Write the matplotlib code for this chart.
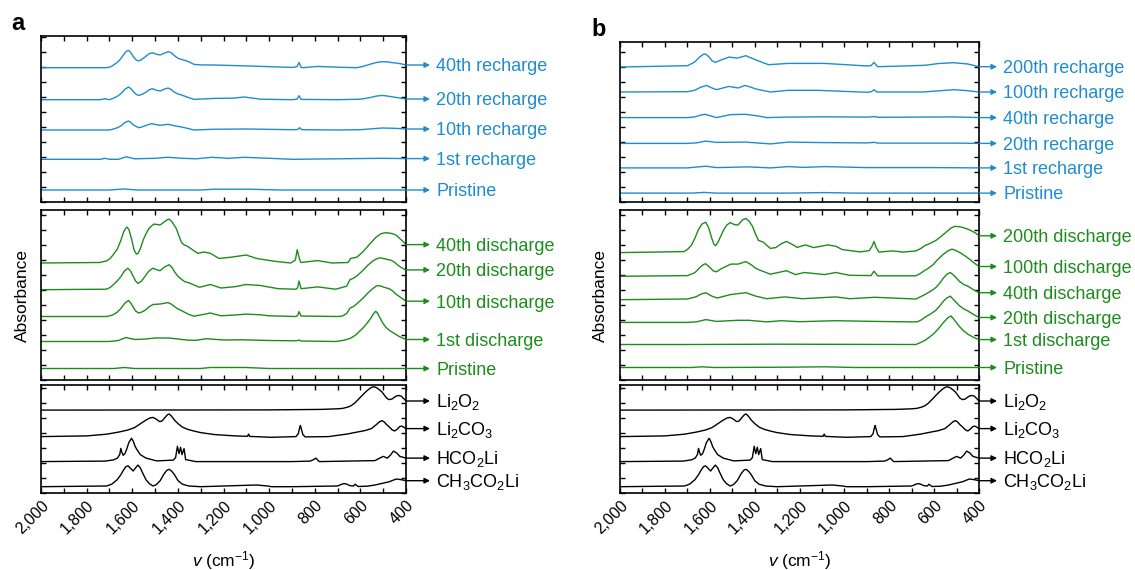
import matplotlib
matplotlib.use('Agg')
import matplotlib.pyplot as plt
from matplotlib.ticker import MultipleLocator, FuncFormatter

plt.rcParams['font.family'] = ['Liberation Sans', 'DejaVu Sans']
plt.rcParams['mathtext.fontset'] = 'custom'
plt.rcParams['mathtext.rm'] = 'Liberation Sans'
plt.rcParams['mathtext.it'] = 'Liberation Sans:italic'

BLUE = '#1e8cce'
GREEN = '#1c8c1c'
BLACK = '#000000'

# spectra: (wavenumber cm-1, absorbance a.u. above own baseline)
# panel a, recharge
a_rc_pristine = [(2000, 0), (1700, 0), (1635, 1), (1580, 0), (1300, 0), (1240, 0.8), (1090, 0.8), (950, 0), (400, 0)]
a_rc_1 = [(2000, 0), (1740, 0), (1720, 1), (1700, 0), (1660, 0), (1627, 2.5), (1590, 0.5), (1500, 1), (1446, 2),
          (1380, 1), (1320, 0.5), (1250, 2), (1180, 1), (1109, 2), (1000, 1), (897, 0), (700, 0.5), (505, 1), (400, 0.7)]
a_rc_10 = [(2000, 0), (1700, 0), (1682, 1), (1665, 2.3), (1650, 4), (1632, 7.5), (1616, 9), (1605, 7.3), (1595, 5),
           (1572, 2.3), (1555, 3.2), (1540, 4.5), (1517, 6.3), (1478, 4.7), (1443, 5.7), (1415, 4.2), (1384, 3),
           (1352, 1.3), (1329, 0), (1250, 0.7), (1100, 1), (900, 0.3), (875, 0.5), (866, 2.3), (857, 0.3), (700, 0),
           (600, 0.3), (550, 1.2), (505, 2), (450, 1.7), (400, 1)]
a_rc_20 = [(2000, 0), (1740, 0), (1720, 1), (1700, 0), (1682, 1.5), (1665, 3.5), (1650, 6), (1632, 10.5),
           (1616, 12.7), (1605, 10.8), (1595, 8), (1583, 5.3), (1572, 4.3), (1555, 5.5), (1540, 7.5), (1525, 10),
           (1512, 11), (1495, 9.5), (1478, 8.7), (1460, 10.5), (1443, 11.7), (1430, 10.2), (1415, 7.5), (1400, 5.8),
           (1384, 4.7), (1352, 2), (1329, 0.3), (1242, 1.3), (1160, 1.5), (1109, 2.7), (1038, 0.5), (900, 0),
           (878, 0.5), (869, 4), (860, 0.3), (700, 0), (600, 0.5), (560, 2), (530, 3.6), (505, 4.3), (480, 3.6),
           (450, 2.5), (400, 0.7)]
a_rc_40 = [(2000, 0), (1713, 0), (1695, 0.8), (1682, 2.7), (1665, 5.5), (1650, 9), (1635, 14), (1625, 16.5),
           (1616, 17.3), (1606, 15), (1595, 11), (1583, 7.8), (1572, 6.7), (1560, 8), (1545, 10.5), (1528, 13.8),
           (1512, 15), (1495, 13.5), (1478, 12.7), (1460, 14.5), (1442, 16), (1428, 14.8), (1415, 12), (1400, 9.5),
           (1384, 8.3), (1365, 7), (1352, 6), (1329, 3.3), (1300, 2.8), (1242, 2.7), (1086, 1.7), (900, 0.3),
           (878, 1), (869, 5.3), (860, 0.3), (853, 0), (787, 1.3), (700, 0.5), (615, 0), (590, 1.2), (568, 2.7),
           (545, 4.3), (530, 5.2), (505, 6), (480, 5.8), (460, 5), (443, 4.7), (420, 3.8), (400, 2.7)]

# panel a, discharge
a_dc_pristine = [(2000, 0), (1680, 0), (1635, 1), (1590, 0), (1300, 0), (1258, 1), (1101, 1), (1000, 0), (400, 0)]
a_dc_1 = [(2000, 0), (1700, 0), (1660, 1), (1640, 3), (1627, 4), (1610, 3), (1587, 2), (1540, 2.5), (1500, 3.5),
          (1440, 3.5), (1399, 2.5), (1360, 1.4), (1320, 1.2), (1274, 2.8), (1200, 1.5), (1117, 1.7), (1000, 1),
          (880, 0.7), (869, 1.5), (860, 0.5), (709, 0), (678, 1), (660, 2), (646, 3), (630, 5), (615, 7.6),
          (600, 11), (584, 14.6), (570, 18.5), (555, 23), (542, 28), (533, 30.2), (525, 28.5), (515, 24),
          (503, 19), (490, 14.6), (475, 11.5), (458, 9), (445, 7.2), (430, 5), (415, 3.5), (400, 2)]
a_dc_10 = [(2000, 0), (1713, 0), (1697, 0.8), (1682, 2), (1665, 4.5), (1650, 8), (1632, 13.5), (1616, 16),
           (1605, 13), (1595, 9), (1585, 5.5), (1572, 3.5), (1560, 4.3), (1545, 6), (1525, 10), (1509, 12),
           (1478, 12.5), (1443, 13.9), (1430, 12.5), (1415, 10), (1400, 7.5), (1384, 5.9), (1352, 2), (1329, 0.3),
           (1290, 2), (1258, 3.5), (1211, 0.7), (1150, 1.5), (1101, 2.4), (1038, 1.7), (1000, 0.7), (882, 0),
           (875, 1), (869, 4.9), (860, 0.5), (700, 0), (678, 0.5), (660, 3), (646, 8.3), (630, 10), (615, 12.8),
           (590, 18), (568, 23.3), (545, 28), (530, 30.5), (524, 30.9), (510, 30.5), (500, 29.5), (474, 27.8),
           (458, 25.5), (443, 22.2), (420, 18.5), (400, 15.3)]
a_dc_20 = [(2000, 0), (1713, 0.5), (1697, 2.2), (1682, 5.2), (1665, 9), (1650, 13), (1635, 18.5), (1619, 21.5),
           (1607, 18.5), (1595, 13), (1585, 8.5), (1575, 6.3), (1560, 8.5), (1545, 13), (1528, 18.5), (1509, 21.5),
           (1493, 20), (1478, 19), (1460, 22.5), (1438, 25), (1425, 22), (1415, 18), (1400, 13.5), (1384, 10.4),
           (1370, 8), (1352, 6.9), (1305, 2.4), (1258, 5.2), (1211, 1.7), (1150, 3), (1101, 5.2), (1038, 4.2),
           (960, 1), (882, 0.5), (875, 2), (869, 8.7), (860, 1), (787, 2.8), (709, 0.5), (660, 3.5), (646, 10),
           (630, 11.5), (615, 13.9), (590, 19), (568, 24.3), (545, 28.8), (525, 31.3), (513, 31.9), (495, 31),
           (480, 30.2), (466, 29.5), (450, 27.5), (435, 24.3), (418, 21.8), (400, 19.8)]
a_dc_40 = [(2000, 0), (1744, 0.5), (1713, 2), (1697, 4.5), (1682, 8.7), (1665, 14), (1650, 22.6), (1638, 31),
           (1628, 35), (1622, 35.8), (1614, 33), (1603, 24), (1592, 13), (1582, 9), (1575, 9.5), (1565, 14),
           (1552, 23), (1540, 29.2), (1525, 35), (1506, 38.9), (1490, 38.5), (1478, 38), (1460, 41), (1445, 43.5),
           (1438, 43.8), (1425, 41), (1407, 34.4), (1395, 27), (1384, 20.5), (1372, 18), (1360, 17), (1313, 9.7),
           (1285, 11), (1258, 9.7), (1219, 4.5), (1164, 5.9), (1101, 8), (1054, 4.5), (976, 1.7), (905, 0),
           (885, 3), (877, 13.2), (868, 5), (861, 0.5), (787, 2.4), (725, 0), (654, 0.5), (643, 4.5), (615, 5.9),
           (590, 11), (570, 16), (552, 20.8), (530, 26), (510, 29.3), (490, 30.3), (470, 29.8), (455, 29),
           (443, 27.8), (425, 24), (410, 21), (400, 18.4)]

# panel b, recharge
b_rc_pristine = [(2000, 0), (1680, 0), (1626, 0.7), (1570, 0), (1250, 0), (1090, 0.5), (950, 0), (400, 0)]
b_rc_1 = [(2000, 0), (1700, 0), (1618, 1.7), (1570, 0.3), (1426, 1), (1330, 0), (1250, 1.3), (1180, 0.5), (1089, 1.3),
          (900, 0.3), (600, 0.3), (400, 0)]
b_rc_20 = [(2000, 0), (1700, 0), (1660, 0.5), (1618, 2.3), (1570, 1), (1440, 1.3), (1330, -0.5), (1250, 1.3),
           (1100, 0.8), (900, 0.5), (865, 1), (850, 0.3), (500, 0.3), (400, 0)]
b_rc_40 = [(2000, 0), (1699, 0), (1667, 0.7), (1640, 2.5), (1622, 3.3), (1600, 2), (1570, 0), (1506, 3), (1442, 3.3),
           (1380, 1.5), (1346, 0), (1250, 0.5), (1100, 0.8), (900, 0.5), (865, 1), (850, 0.3), (512, 0.7), (400, 0)]
b_rc_100 = [(2000, 0), (1699, 0.3), (1667, 1.7), (1640, 4.8), (1615, 6.6), (1595, 4.5), (1570, 2.3), (1545, 3.8),
            (1514, 5.6), (1474, 4), (1442, 6.6), (1420, 5), (1394, 3), (1330, 0), (1250, 1.7), (1121, 1.7),
            (897, -0.3), (880, 0.3), (868, 2.3), (855, 0), (650, 0), (560, 1.5), (512, 2.3), (460, 1.5), (400, 0)]
b_rc_200 = [(2000, 0), (1699, 1.3), (1667, 5), (1645, 10), (1630, 12.5), (1618, 13), (1605, 10.5), (1590, 6.3),
            (1574, 4.6), (1550, 7), (1514, 9.9), (1477, 8.9), (1439, 11.3), (1415, 9), (1378, 5.6), (1338, 2.3),
            (1250, 3.6), (1089, 3.6), (897, 1), (880, 1.5), (868, 4.6), (852, 0.3), (737, 1), (641, 1.7),
            (580, 3.5), (512, 4.3), (450, 3), (400, 0.3)]

# panel b, discharge
b_dc_pristine = [(2000, 0), (1680, 0), (1634, 0.7), (1580, 0), (1250, 0.3), (1089, 0.7), (950, 0), (400, 0)]
b_dc_1 = [(2000, 0), (1700, 0), (1300, 0.3), (681, 0), (660, 2), (641, 4.2), (620, 7.5), (600, 11.2), (580, 16),
          (560, 21.6), (540, 26.5), (525, 28.6), (508, 24), (488, 18.2), (468, 13.5), (448, 10.1), (425, 7.2),
          (400, 4.9)]
b_dc_20 = [(2000, 0), (1700, 0), (1660, 0.5), (1618, 2.8), (1570, 1), (1474, 2.1), (1426, 2.1), (1346, 0.5),
           (1282, 1.7), (1200, 0.7), (1041, 1.7), (865, 1), (700, 0.5), (673, 0.7), (655, 2.8), (641, 5.2),
           (615, 8.5), (592, 12.2), (575, 16.5), (560, 20.9), (543, 24.5), (528, 26.2), (510, 22), (488, 16.8),
           (468, 13.5), (448, 11.2), (425, 8), (400, 4.9)]
b_dc_40 = [(2000, 0), (1699, 0.7), (1660, 3), (1640, 5.5), (1618, 7), (1590, 3.5), (1567, 1.7), (1506, 5.2),
           (1439, 7), (1394, 3.5), (1346, 1), (1266, 2.8), (1186, 1), (1038, 2.8), (975, 1), (865, 2.4), (681, 0.7),
           (660, 3), (641, 5.2), (615, 8.5), (592, 12.2), (575, 16.5), (560, 21.3), (543, 25.5), (528, 27.2),
           (510, 24), (488, 18.5), (470, 15.5), (448, 13.3), (425, 10), (400, 7)]
b_dc_100 = [(2000, 0), (1699, 0.7), (1667, 3.5), (1645, 8.5), (1630, 11.5), (1618, 12.6), (1600, 9), (1585, 5.5),
            (1570, 4.5), (1545, 8), (1506, 12.2), (1474, 12.2), (1439, 14.7), (1415, 11.5), (1395, 8), (1378, 6.3),
            (1330, 2.1), (1258, 5.6), (1218, 1.7), (1178, 3.8), (1089, 1.7), (1038, 3.8), (977, 1), (881, 0.7),
            (868, 5.2), (852, 0.5), (681, 0.5), (660, 3), (644, 5.6), (628, 7.7), (605, 11.5), (584, 16.8),
            (560, 21.8), (538, 25.5), (520, 27.2), (500, 25.5), (480, 23), (460, 20), (440, 16.8), (420, 13),
            (400, 9.8)]
b_dc_200 = [(2000, 0), (1715, 1), (1700, 3), (1683, 7), (1667, 14), (1651, 22.7), (1635, 28.5), (1618, 30.4),
            (1605, 25), (1592, 15), (1582, 8.5), (1574, 7), (1563, 10.5), (1550, 17), (1538, 22.7), (1524, 27.5),
            (1509, 30), (1490, 28), (1474, 27.6), (1455, 32.5), (1439, 34.2), (1425, 31.5), (1410, 26.5),
            (1395, 18), (1383, 12.2), (1362, 10.5), (1330, 4.2), (1306, 5), (1280, 9), (1258, 11.2), (1235, 8.5),
            (1210, 5.2), (1173, 7.7), (1137, 5), (1073, 7.7), (1038, 6.3), (1009, 3), (929, 0.7), (889, 2),
            (875, 7), (868, 11.2), (858, 5), (846, 0.5), (785, 1.7), (737, 0.5), (681, 1.7), (660, 4), (641, 7),
            (615, 9.5), (592, 12.2), (570, 16), (544, 20.9), (525, 24.5), (509, 26.2), (490, 26), (472, 25.1),
            (450, 23.5), (432, 21.6), (415, 19.5), (400, 16.8)]

# reference compounds (same in both panels)
ref_li2o2 = [(2000, 0), (1000, 0.2), (772, 0.7), (700, 1.3), (678, 1.7), (655, 3), (640, 4.5), (625, 7), (610, 10.5),
             (595, 14), (580, 17.5), (565, 20.5), (552, 22.6), (544, 23.3), (535, 23), (525, 21.8), (515, 20),
             (505, 18.1), (495, 15), (485, 12), (474, 10.5), (462, 11), (450, 13), (440, 14.3), (430, 14.6),
             (420, 13.8), (410, 11.5), (400, 9.1)]
ref_li2co3 = [(2000, 0), (1800, 0.7), (1713, 2.4), (1660, 4.5), (1619, 6.6), (1590, 9), (1564, 12.9), (1540, 16.5),
              (1522, 18.7), (1509, 19.2), (1495, 17.5), (1480, 15), (1470, 15.5), (1455, 19.5), (1445, 22),
              (1438, 22.6), (1428, 20.5), (1415, 16.5), (1399, 12.9), (1380, 9.5), (1360, 7.5), (1336, 5.9),
              (1300, 4), (1242, 2.1), (1150, 0.7), (1095, 0.3), (1090, 2.5), (1085, 0.2), (991, -0.7), (882, 0),
              (872, 3), (866, 9), (863, 11.1), (859, 8), (852, 2), (842, -0.3), (740, 0), (660, 2.5), (615, 4.5),
              (580, 6), (552, 8), (530, 12), (515, 15), (505, 16), (495, 14.5), (485, 12), (474, 9.8), (462, 7),
              (450, 5.6), (438, 7.5), (428, 10), (419, 10.5), (410, 9.5), (400, 8)]
ref_hco2li = [(2000, 0), (1720, 0.5), (1682, 1.7), (1665, 3.5), (1655, 7), (1650, 13.2), (1645, 9), (1640, 6.3),
              (1632, 8), (1625, 12), (1615, 19), (1603, 23.3), (1595, 20), (1587, 15), (1580, 12.2), (1565, 7),
              (1540, 3.5), (1493, 0.7), (1420, 1.5), (1410, 4), (1402, 15.3), (1395, 8), (1388, 14.3), (1382, 7),
              (1373, 13), (1366, 2), (1321, 0), (900, 0), (820, 0.5), (805, 2), (795, 3.5), (785, 1), (780, 0),
              (536, 1), (515, 3.5), (500, 5.2), (482, 3.5), (468, 6.5), (455, 10.5), (440, 8.5), (427, 5.2),
              (400, 3.5)]
ref_ch3co2li = [(2000, 0), (1713, 0.7), (1690, 2.5), (1666, 7), (1650, 12), (1640, 16), (1628, 20), (1619, 20.9),
                (1608, 18.5), (1596, 15.7), (1585, 19), (1575, 21.6), (1565, 19), (1555, 14), (1540, 7), (1525, 3),
                (1509, 0.7), (1495, 2), (1478, 5.9), (1460, 13), (1448, 16.5), (1438, 17.4), (1427, 15.5),
                (1415, 12), (1399, 5.9), (1380, 2.5), (1352, 0.7), (1300, 0), (1054, 1.7), (1007, 0.7), (990, 0),
                (900, 0), (700, 0.7), (678, 2.8), (665, 3), (645, 1), (630, 0.7), (623, 2.5), (610, 0.2),
                (570, 0.5), (536, 1.7), (474, 4.9), (443, 7.7), (420, 7), (400, 6)]

a_rc_labels = ['Pristine', '1st recharge', '10th recharge', '20th recharge', '40th recharge']
a_dc_labels = ['Pristine', '1st discharge', '10th discharge', '20th discharge', '40th discharge']
b_rc_labels = ['Pristine', '1st recharge', '20th recharge', '40th recharge', '100th recharge', '200th recharge']
b_dc_labels = ['Pristine', '1st discharge', '20th discharge', '40th discharge', '100th discharge', '200th discharge']
ref_labels = ['CH$_3$CO$_2$Li', 'HCO$_2$Li', 'Li$_2$CO$_3$', 'Li$_2$O$_2$']

# vertical stacking offsets (a.u.)
a_rc_off = [12, 42.7, 72, 102.3, 134.3]
a_dc_off = [11.5, 38.5, 63.5, 90.3, 117]
b_rc_off = [8.9, 34.1, 58.6, 84.4, 110, 135]
b_dc_off = [12.5, 35.5, 57.6, 80.3, 103.7, 127.4]
ref_off = [6.3, 31.4, 56.4, 82.9]

W, H = 1135, 570
fig = plt.figure(figsize=(W / 100, H / 100), dpi=100)


def add_ax(x0, x1, y0, y1):
    return fig.add_axes([x0 / W, 1 - y1 / H, (x1 - x0) / W, (y1 - y0) / H])


def style(ax, ymax, labels):
    ax.set_xlim(2000, 400)
    ax.set_ylim(0, ymax)
    ax.xaxis.set_major_locator(MultipleLocator(200))
    ax.xaxis.set_minor_locator(MultipleLocator(100))
    ax.yaxis.set_major_locator(MultipleLocator(15))
    ax.tick_params(which='both', direction='in', top=True, right=True, length=3.5, width=1,
                   labelleft=False, labelbottom=labels)
    for s in ax.spines.values():
        s.set_linewidth(1.2)
    if labels:
        ax.xaxis.set_major_formatter(FuncFormatter(lambda v, p: f'{int(v):,}'))
        plt.setp(ax.get_xticklabels(), rotation=45, ha='right', rotation_mode='anchor', fontsize=11.5)
        ax.set_xlabel('$v$ (cm$^{-1}$)', fontsize=12.5)
        ax.xaxis.set_label_coords(0.5, -0.515)
        ax.xaxis.label.set_va('top')


def draw(ax, curves, offsets, labels, color, arrow_pt, text_pt):
    for pts, off, lab in zip(curves, offsets, labels):
        wn = [p[0] for p in pts]
        ab = [p[1] + off for p in pts]
        ax.plot(wn, ab, color=color, lw=1, solid_joinstyle='round')
        ax.annotate('', xy=(1, ab[-1]), xycoords=('axes fraction', 'data'),
                    xytext=(arrow_pt, 0), textcoords='offset points', annotation_clip=False,
                    arrowprops=dict(arrowstyle='<|-', color=color, lw=1, shrinkA=0, shrinkB=0,
                                    mutation_scale=8))
        ax.annotate(lab, xy=(1, ab[-1]), xycoords=('axes fraction', 'data'),
                    xytext=(text_pt, -4.6), textcoords='offset points', annotation_clip=False,
                    ha='left', va='baseline', color=color, fontsize=13)


# panel a
ax_a1 = add_ax(41, 406, 36, 202)
ax_a2 = add_ax(41, 406, 210, 380)
ax_a3 = add_ax(41, 406, 385, 493)
style(ax_a1, 166, False)
style(ax_a2, 170, False)
style(ax_a3, 108, True)
draw(ax_a1, [a_rc_pristine, a_rc_1, a_rc_10, a_rc_20, a_rc_40], a_rc_off, a_rc_labels, BLUE, 17.3, 21.6)
draw(ax_a2, [a_dc_pristine, a_dc_1, a_dc_10, a_dc_20, a_dc_40], a_dc_off, a_dc_labels, GREEN, 17.3, 21.6)
draw(ax_a3, [ref_ch3co2li, ref_hco2li, ref_li2co3, ref_li2o2], ref_off, ref_labels, BLACK, 17.3, 21.6)
ax_a2.text(-19 / 365, 0.5, 'Absorbance', transform=ax_a2.transAxes, rotation=90,
           ha='center', va='center', fontsize=12.5)

# panel b
ax_b1 = add_ax(620, 979, 42, 202)
ax_b2 = add_ax(620, 979, 210, 380)
ax_b3 = add_ax(620, 979, 385, 493)
style(ax_b1, 160, False)
style(ax_b2, 170, False)
style(ax_b3, 108, True)
draw(ax_b1, [b_rc_pristine, b_rc_1, b_rc_20, b_rc_40, b_rc_100, b_rc_200], b_rc_off, b_rc_labels, BLUE, 13, 17.3)
draw(ax_b2, [b_dc_pristine, b_dc_1, b_dc_20, b_dc_40, b_dc_100, b_dc_200], b_dc_off, b_dc_labels, GREEN, 13, 17.3)
draw(ax_b3, [ref_ch3co2li, ref_hco2li, ref_li2co3, ref_li2o2], ref_off, ref_labels, BLACK, 13, 17.3)
ax_b2.text(-20 / 359, 0.5, 'Absorbance', transform=ax_b2.transAxes, rotation=90,
           ha='center', va='center', fontsize=12.5)

fig.text(11 / W, 1 - 30 / H, 'a', fontsize=17, fontweight='bold', va='baseline')
fig.text(591 / W, 1 - 36 / H, 'b', fontsize=17, fontweight='bold', va='baseline')

fig.savefig('out.png', dpi=100)
